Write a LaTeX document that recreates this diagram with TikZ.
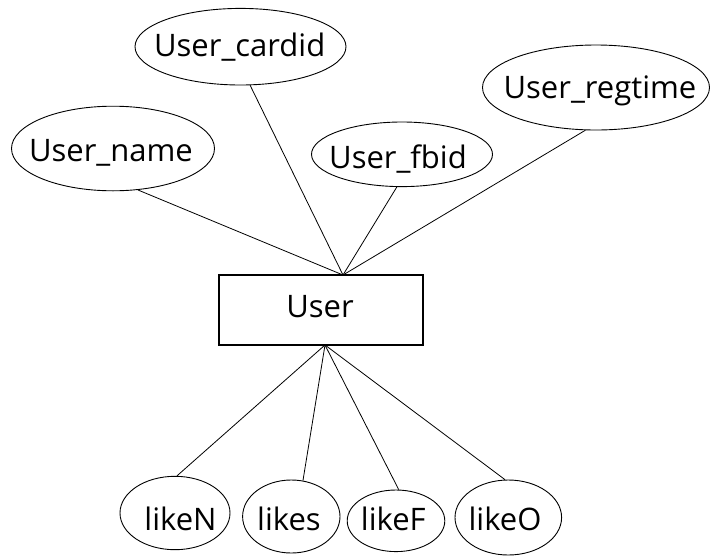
\documentclass[tikz,border=0pt]{standalone}
\usepackage{fontspec}
\setmainfont{Open Sans}
\usetikzlibrary{shapes.geometric}
\begin{document}
\begin{tikzpicture}[x=1pt,y=-1pt,
  attrshape/.style={draw, ellipse, line width=0.9pt, inner sep=0pt},
  entshape/.style={draw, rectangle, line width=1.1pt, inner sep=0pt},
  lbl/.style={anchor=base, inner sep=0pt, font=\fontsize{31}{37}\selectfont},
  link/.style={line width=0.8pt}]
\useasboundingbox (0,0) rectangle (710,555);
% attribute ellipses
\node[attrshape, minimum width=211pt, minimum height=76.6pt] (cardid) at (240.5,46.7) {};
\node[attrshape, minimum width=203pt, minimum height=84.6pt] (uname) at (113,148.5) {};
\node[attrshape, minimum width=181pt, minimum height=64.6pt] (fbid) at (402,154.3) {};
\node[attrshape, minimum width=227pt, minimum height=85pt] (regtime) at (596,87.5) {};
\node[attrshape, minimum width=110pt, minimum height=73.4pt] (likeN) at (175,513) {};
\node[attrshape, minimum width=97.4pt, minimum height=73pt] (likes) at (291.3,516.5) {};
\node[attrshape, minimum width=97.6pt, minimum height=61.6pt] (likeF) at (396,520.8) {};
\node[attrshape, minimum width=106.6pt, minimum height=75pt] (likeO) at (508.3,517.5) {};
% entity
\node[entshape, minimum width=204pt, minimum height=70pt] (user) at (321,310) {};
% texts
\node[lbl] (tcardid) at (239.7,56.7) {User\_cardid};
\node[lbl] (tname) at (111,161.7) {User\_name};
\node[lbl] (tfbid) at (398,168.3) {User\_fbid};
\node[lbl] (tregtime) at (600,98.3) {User\_regtime};
\node[lbl] (tuser) at (320,317) {User};
\node[lbl] (tlikeN) at (180.5,530) {likeN};
\node[lbl] (tlikes) at (289,530) {likes};
\node[lbl] (tlikeF) at (393.3,530) {likeF};
\node[lbl] (tlikeO) at (505,530) {likeO};
% junction points
\coordinate (jt) at (343,275);
\coordinate (jb) at (325,345);
% connectors
\draw[link] (uname.-59) -- (jt);
\draw[link] (cardid.-76.4) -- (jt);
\draw[link] (fbid.-99.6) -- (jt);
\draw[link] (regtime.-104) -- (jt);
\draw[link] (jb) -- (likeN.87.4);
\draw[link] (jb) -- (likes.72.7);
\draw[link] (jb) -- (likeF.85.6);
\draw[link] (jb) -- (likeO.95);
\end{tikzpicture}
\end{document}
